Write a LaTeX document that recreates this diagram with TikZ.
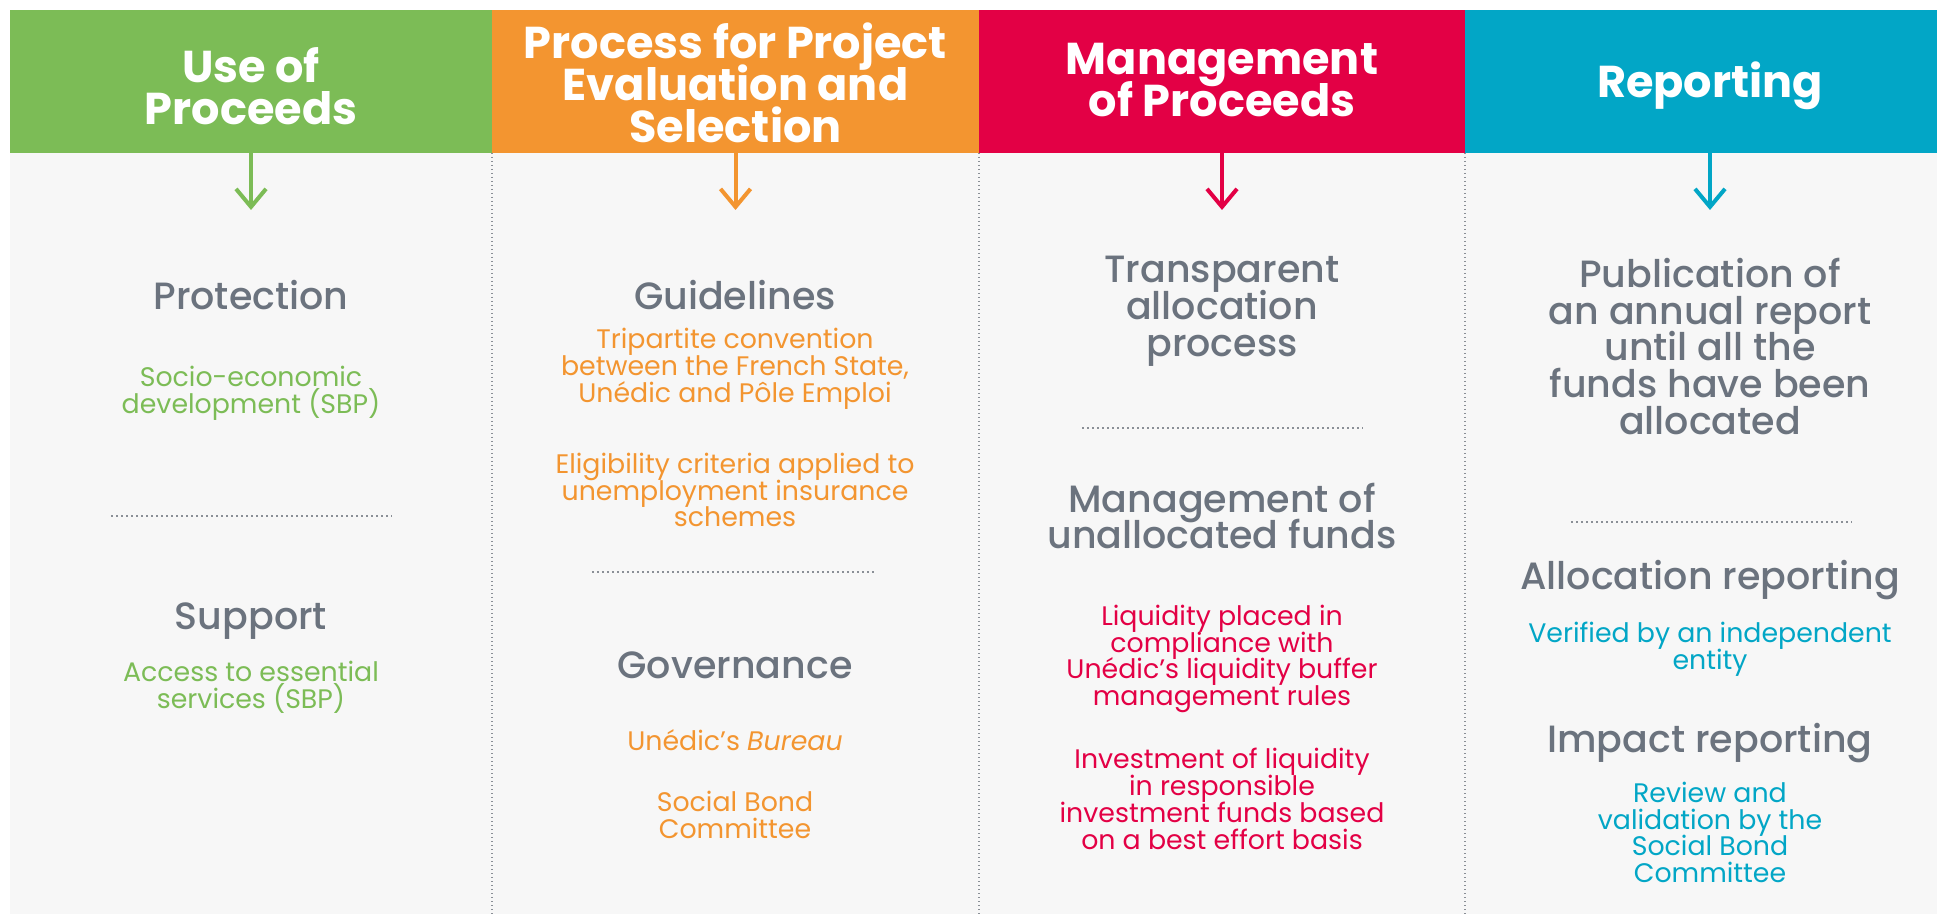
\documentclass[tikz,border=0pt]{standalone}
\usepackage{fontspec}
\setmainfont{Poppins}
\newfontfamily\medfont{Poppins Medium}
\usetikzlibrary{arrows.meta}
\newcommand\tightls{\lineskiplimit=-50pt\relax}
\definecolor{cgreen}{HTML}{7CBC56}
\definecolor{corange}{HTML}{F39530}
\definecolor{cred}{HTML}{E30045}
\definecolor{cblue}{HTML}{02A6C6}
\definecolor{cgray}{HTML}{6B737E}
\definecolor{cbg}{HTML}{F7F7F7}
\definecolor{cdot}{HTML}{8A8F96}
\tikzset{
  hbox/.style={fill=#1, draw=none, minimum height=71.5pt, inner sep=0pt},
  htext/.style={text=white, font=\bfseries\fontsize{22.3}{21}\selectfont\tightls, align=center, inner sep=0pt},
  ghead/.style={text=cgray, font=\medfont\fontsize{19}{18.4}\selectfont\tightls, align=center, inner sep=0pt},
  body/.style={text=#1, font=\fontsize{13.4}{13.4}\selectfont\tightls, align=center, inner sep=0pt},
  arr/.style={draw=#1, line width=2pt, -{Straight Barb[length=9pt,width=15pt]}},
  vsep/.style={draw=cdot, line width=0.6pt, dash pattern=on 0.6pt off 1.4pt},
  hsep/.style={draw=cdot, line width=0.8pt, dash pattern=on 0.8pt off 1.7pt}
}
\begin{document}
\begin{tikzpicture}[x=0.5pt, y=-0.5pt]
\useasboundingbox (0,0) rectangle (1937,914);
\fill[white] (0,0) rectangle (1937,914);
\fill[cbg] (10,153) rectangle (1937,914);
% headers
\node[hbox=cgreen, minimum width=241pt] (h1) at (251,81.5) {};
\node[hbox=corange, minimum width=243.5pt] (h2) at (735.5,81.5) {};
\node[hbox=cred, minimum width=243pt] (h3) at (1222,81.5) {};
\node[hbox=cblue, minimum width=236pt] (h4) at (1701,81.5) {};
\node[htext] (h1t) at (251,86) {Use of\\Proceeds};
\node[htext] (h2t) at (735.5,83) {Process for Project\\Evaluation and\\Selection};
\node[htext] (h3t) at (1222,80) {Management\\of Proceeds};
\node[htext] (h4t) at (1710,86) {Reporting};
% column separators
\draw[vsep] (492,153) -- (492,914);
\draw[vsep] (979,153) -- (979,914);
\draw[vsep] (1465,153) -- (1465,914);
% arrows
\coordinate (a1) at (251,210);
\coordinate (a2) at (735.5,210);
\coordinate (a3) at (1222,210);
\coordinate (a4) at (1710,210);
\draw[arr=cgreen] (h1.south) -- (a1);
\draw[arr=corange] (h2.south) -- (a2);
\draw[arr=cred] (h3.south) -- (a3);
\draw[arr=cblue] (h4t |- h4.south) -- (a4);
% column 1
\node[ghead] (p1) at (251,295) {Protection};
\node[body=cgreen] (p1t) at (251,393.5) {Socio-economic\\development (SBP)};
\draw[hsep] (111,516) -- (392,516);
\node[ghead] (p2) at (251,621) {Support};
\node[body=cgreen] (p2t) at (251,687.5) {Access to essential\\services (SBP)};
% column 2
\node[ghead] (g1) at (735,295) {Guidelines};
\node[body=corange] (g1a) at (735,369) {Tripartite convention\\between the French State,\\Unédic and Pôle Emploi};
\node[body=corange] (g1b) at (735,490) {Eligibility criteria applied to\\unemployment insurance\\schemes};
\draw[hsep] (592,572) -- (874,572);
\node[ghead] (g2) at (735,665) {Governance};
\node[body=corange] (g2a) at (735,740) {Unédic’s \textit{Bureau}};
\node[body=corange] (g2b) at (735,815) {Social Bond\\Committee};
% column 3
\node[ghead] (m1) at (1222,311) {Transparent\\allocation\\process};
\draw[hsep] (1082,428) -- (1363,428);
\node[ghead] (m2) at (1222,516) {Management of\\unallocated funds};
\node[body=cred] (m2a) at (1222,659) {Liquidity placed in\\compliance with\\Unédic’s liquidity buffer\\management rules};
\node[body=cred] (m2b) at (1222,799) {Investment of liquidity\\in responsible\\investment funds based\\on a best effort basis};
% column 4
\node[ghead] (r1) at (1710,346.5) {Publication of\\an annual report\\until all the\\funds have been\\allocated};
\draw[hsep] (1571,522) -- (1852,522);
\node[ghead] (r2) at (1710,580) {Allocation reporting};
\node[body=cblue] (r2a) at (1710,649.5) {Verified by an independent\\entity};
\node[ghead] (r3) at (1710,743) {Impact reporting};
\node[body=cblue] (r3a) at (1710,832.5) {Review and\\validation by the\\Social Bond\\Committee};
\end{tikzpicture}
\end{document}
